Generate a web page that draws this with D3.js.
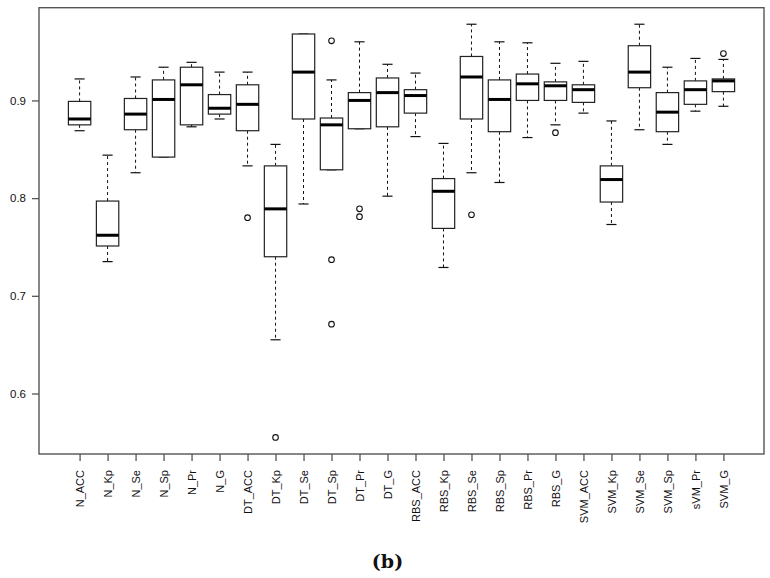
<!DOCTYPE html>
<html lang="en">
  <head>
    <meta charset="UTF-8" />
    <title>Boxplot (b)</title>
    <script src="https://d3js.org/d3.v7.min.js"></script>
    <style>
      body { margin: 0; background: #fff; }
    </style>
  </head>
  <body>
    <svg width="770" height="578"></svg>

    <script>
      // data
      const categories = ["N_ACC", "N_Kp", "N_Se", "N_Sp", "N_Pr", "N_G",
        "DT_ACC", "DT_Kp", "DT_Se", "DT_Sp", "DT_Pr", "DT_G",
        "RBS_ACC", "RBS_Kp", "RBS_Se", "RBS_Sp", "RBS_Pr", "RBS_G",
        "SVM_ACC", "SVM_Kp", "SVM_Se", "SVM_Sp", "sVM_Pr", "SVM_G"];
      const lowerWhisker = [0.869, 0.735, 0.826, 0.842, 0.873, 0.881,
        0.833, 0.655, 0.794, 0.829, 0.871, 0.802,
        0.863, 0.729, 0.826, 0.816, 0.862, 0.875,
        0.887, 0.773, 0.870, 0.855, 0.889, 0.894];
      const q1 = [0.875, 0.751, 0.870, 0.842, 0.875, 0.886,
        0.869, 0.740, 0.881, 0.829, 0.871, 0.873,
        0.887, 0.769, 0.881, 0.868, 0.900, 0.900,
        0.898, 0.796, 0.913, 0.868, 0.896, 0.909];
      const medians = [0.881, 0.762, 0.886, 0.901, 0.916, 0.892,
        0.896, 0.789, 0.929, 0.875, 0.900, 0.908,
        0.905, 0.807, 0.924, 0.901, 0.917, 0.915,
        0.911, 0.819, 0.929, 0.888, 0.911, 0.920];
      const q3 = [0.899, 0.797, 0.902, 0.921, 0.934, 0.906,
        0.916, 0.833, 0.968, 0.882, 0.908, 0.923,
        0.911, 0.820, 0.945, 0.921, 0.927, 0.919,
        0.916, 0.833, 0.956, 0.908, 0.920, 0.922];
      const upperWhisker = [0.922, 0.844, 0.924, 0.934, 0.939, 0.929,
        0.929, 0.855, 0.968, 0.921, 0.960, 0.937,
        0.928, 0.856, 0.978, 0.960, 0.959, 0.938,
        0.940, 0.879, 0.978, 0.934, 0.943, 0.942];
      // [category index, value]
      const outliers = [[6, 0.780], [7, 0.555], [9, 0.961], [9, 0.737], [9, 0.671],
        [10, 0.789], [10, 0.781], [14, 0.783], [17, 0.867], [23, 0.948]];
      const yTicks = [0.6, 0.7, 0.8, 0.9];

      const svg = d3.select("svg");
      const frame = { left: 39, top: 7.7, right: 764, bottom: 454 };

      // R style: data range stretched by 4%
      const allVals = lowerWhisker.concat(upperWhisker, outliers.map(d => d[1]));
      const lo = d3.min(allVals), hi = d3.max(allVals);
      const pad = (hi - lo) * 0.04;

      const y = d3.scaleLinear()
        .domain([lo - pad, hi + pad])
        .range([frame.bottom, frame.top]);
      const x = d3.scaleLinear()
        .domain([-0.45, 25.45])
        .range([frame.left, frame.right]);
      const unit = x(1) - x(0);
      const boxW = 0.8 * unit;
      const capW = 0.36 * unit;

      const data = categories.map((c, i) => ({
        name: c, pos: i + 1,
        lo: lowerWhisker[i], q1: q1[i], med: medians[i], q3: q3[i], hi: upperWhisker[i]
      }));

      const g = svg.append("g");

      const box = g.selectAll("g.box").data(data).join("g").attr("class", "box");

      // whiskers (dashed)
      box.append("line")
        .attr("x1", d => x(d.pos)).attr("x2", d => x(d.pos))
        .attr("y1", d => y(d.q3)).attr("y2", d => y(d.hi))
        .attr("stroke", "#111").attr("stroke-dasharray", "3,3");
      box.append("line")
        .attr("x1", d => x(d.pos)).attr("x2", d => x(d.pos))
        .attr("y1", d => y(d.q1)).attr("y2", d => y(d.lo))
        .attr("stroke", "#111").attr("stroke-dasharray", "3,3");

      // staples
      box.append("line")
        .attr("x1", d => x(d.pos) - capW / 2).attr("x2", d => x(d.pos) + capW / 2)
        .attr("y1", d => y(d.hi)).attr("y2", d => y(d.hi))
        .attr("stroke", "#111").attr("stroke-width", 1.2);
      box.append("line")
        .attr("x1", d => x(d.pos) - capW / 2).attr("x2", d => x(d.pos) + capW / 2)
        .attr("y1", d => y(d.lo)).attr("y2", d => y(d.lo))
        .attr("stroke", "#111").attr("stroke-width", 1.2);

      // box
      box.append("rect")
        .attr("x", d => x(d.pos) - boxW / 2)
        .attr("y", d => y(d.q3))
        .attr("width", boxW)
        .attr("height", d => y(d.q1) - y(d.q3))
        .attr("fill", "#fff")
        .attr("stroke", "#222")
        .attr("stroke-width", 1.2);

      // median
      box.append("line")
        .attr("x1", d => x(d.pos) - boxW / 2).attr("x2", d => x(d.pos) + boxW / 2)
        .attr("y1", d => y(d.med)).attr("y2", d => y(d.med))
        .attr("stroke", "#000").attr("stroke-width", 3);

      // outliers
      g.selectAll("circle.out").data(outliers).join("circle")
        .attr("class", "out")
        .attr("cx", d => x(d[0] + 1))
        .attr("cy", d => y(d[1]))
        .attr("r", 2.8)
        .attr("fill", "none")
        .attr("stroke", "#111")
        .attr("stroke-width", 1.1);

      // frame
      svg.append("rect")
        .attr("x", frame.left).attr("y", frame.top)
        .attr("width", frame.right - frame.left)
        .attr("height", frame.bottom - frame.top)
        .attr("fill", "none")
        .attr("stroke", "#555")
        .attr("stroke-width", 1.4);

      // y axis
      const yAxis = svg.append("g")
        .attr("transform", `translate(${frame.left},0)`)
        .call(d3.axisLeft(y).tickValues(yTicks).tickFormat(d3.format(".1f")).tickSize(7).tickPadding(6));
      yAxis.select(".domain").remove();
      yAxis.selectAll("line").attr("stroke", "#555").attr("stroke-width", 1.3);
      yAxis.selectAll("text")
        .attr("font-family", "Liberation Sans, Arial, sans-serif")
        .attr("font-size", 11.5)
        .attr("fill", "#111");

      // x axis
      const xAxis = svg.append("g")
        .attr("transform", `translate(0,${frame.bottom})`)
        .call(d3.axisBottom(x).tickValues(data.map(d => d.pos))
          .tickFormat(d => categories[d - 1]).tickSize(7).tickPadding(0));
      xAxis.select(".domain").remove();
      xAxis.selectAll("line").attr("stroke", "#555").attr("stroke-width", 1.3);
      xAxis.selectAll("text")
        .attr("font-family", "Liberation Sans, Arial, sans-serif")
        .attr("font-size", 11)
        .attr("fill", "#111")
        .attr("text-anchor", "end")
        .attr("transform", "rotate(-90)")
        .attr("x", -16)
        .attr("y", 0)
        .attr("dy", "0.36em");

      // caption
      svg.append("text")
        .attr("x", 387.5)
        .attr("y", 568)
        .attr("text-anchor", "middle")
        .attr("font-family", "DejaVu Serif, serif")
        .attr("font-weight", "bold")
        .attr("font-size", 19)
        .attr("fill", "#111")
        .text("(b)");
    </script>
  </body>
</html>
